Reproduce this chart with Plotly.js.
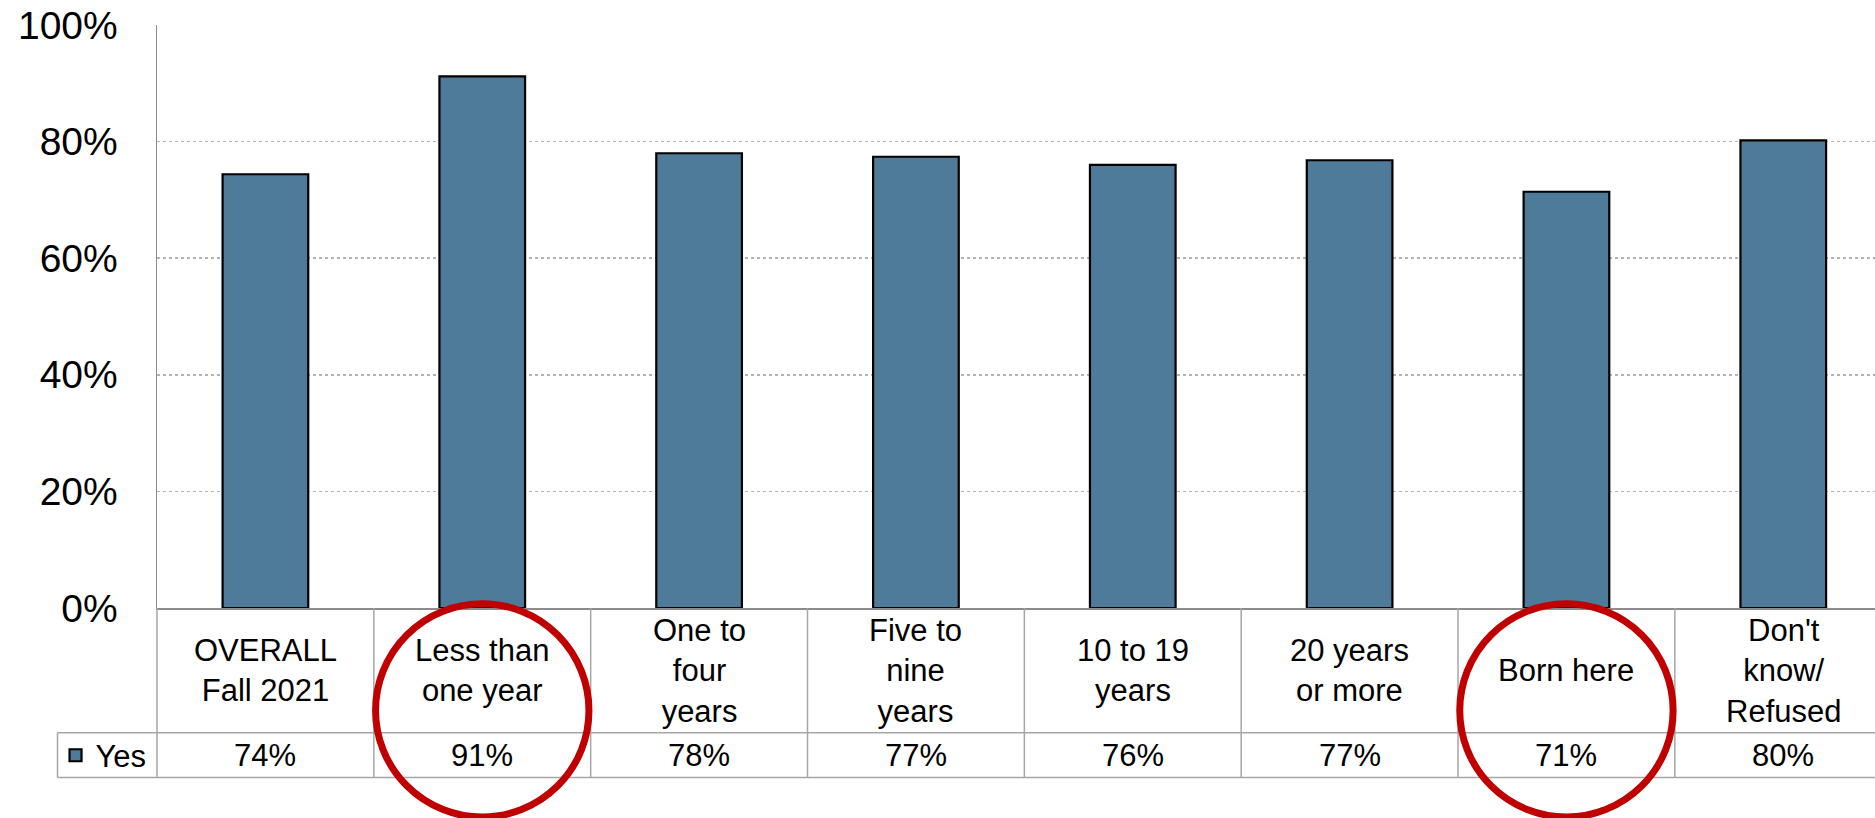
<!DOCTYPE html>
<html>
<head>
<meta charset="utf-8">
<script src="https://cdn.plot.ly/plotly-3.0.1.min.js"></script>
<style>
  html, body { margin: 0; padding: 0; background: #fff; }
  #chart { width: 1875px; height: 818px; }
</style>
</head>
<body>
<div id="chart"></div>
<script>
// ---- data ----
const categories = [
  "OVERALL<br>Fall 2021",
  "Less than<br>one year",
  "One to<br>four<br>years",
  "Five to<br>nine<br>years",
  "10 to 19<br>years",
  "20 years<br>or more",
  "Born here",
  "Don't<br>know/<br>Refused"
];
const seriesName = "Yes";
const yesValues = [74.4, 91.2, 78.0, 77.4, 76.0, 76.8, 71.4, 80.2];
const yTickValues = [0, 20, 40, 60, 80, 100];
const yTickLabels = ["0%", "20%", "40%", "60%", "80%", "100%"];
const highlighted = [1, 6];

// ---- layout constants (pixels) ----
const W = 1875, H = 818;
const mL = 156.5, mT = 25, mB = 209.7;
const plotH = H - mT - mB;
const catW = 216.9;
const plotW = W - mL;
const xRange = [-0.5, -0.5 + plotW / catW];
const py = p => (H - mB - p) / plotH;   // pixel y -> paper y
const px = p => (p - mL) / plotW;       // pixel x -> paper x

const FONT = '"Liberation Sans", Arial, sans-serif';
const xs = categories.map((_, i) => i);

const trace = {
  type: 'bar',
  x: xs,
  y: yesValues,
  name: seriesName,
  marker: { color: '#4e7b99', line: { color: '#000000', width: 2.2 } },
  hoverinfo: 'skip'
};

const lineColor = '#a6a6a6';
const shapes = [];
// table horizontal lines
[733, 778].forEach(p => shapes.push({
  type: 'line', xref: 'paper', yref: 'paper',
  x0: px(57), x1: 1.02, y0: py(p), y1: py(p),
  line: { color: lineColor, width: 1.5 }
}));
// axis line continuing through the table
shapes.push({ type: 'line', xref: 'paper', yref: 'paper', x0: 0, x1: 0, y0: 0, y1: py(778),
  line: { color: lineColor, width: 1.5 } });
// legend cell left border
shapes.push({ type: 'line', xref: 'paper', yref: 'paper', x0: px(57), x1: px(57), y0: py(733), y1: py(778),
  line: { color: lineColor, width: 1.5 } });
// category boundaries
for (let i = 0; i < categories.length - 1; i++) {
  shapes.push({ type: 'line', xref: 'x', yref: 'paper', x0: i + 0.5, x1: i + 0.5, y0: 0, y1: py(778),
    line: { color: lineColor, width: 1.5 } });
}
// red highlight circles
highlighted.forEach(i => shapes.push({
  type: 'circle', xref: 'x', yref: 'paper',
  x0: i - 0.492, x1: i + 0.492, y0: py(817.5), y1: py(604),
  line: { color: '#c00000', width: 7 }, fillcolor: 'rgba(0,0,0,0)', layer: 'above'
}));

const annotations = [];
categories.forEach((c, i) => annotations.push({
  x: i, xref: 'x', y: py(671), yref: 'paper', text: c, showarrow: false,
  xanchor: 'center', yanchor: 'middle', align: 'center',
  font: { family: FONT, size: 31, color: '#000' }
}));
yesValues.forEach((v, i) => annotations.push({
  x: i, xref: 'x', y: py(756), yref: 'paper', text: Math.round(v) + '%', showarrow: false,
  xanchor: 'center', yanchor: 'middle',
  font: { family: FONT, size: 31, color: '#000' }
}));

const layout = {
  width: W, height: H,
  margin: { l: mL, r: 0, t: mT, b: mB, pad: 0 },
  paper_bgcolor: '#ffffff', plot_bgcolor: '#ffffff',
  bargap: 0.605,
  showlegend: true,
  legend: {
    x: px(55), xanchor: 'left', y: py(756), yanchor: 'middle',
    bgcolor: 'rgba(0,0,0,0)', borderwidth: 0,
    font: { family: FONT, size: 31, color: '#000' },
    itemwidth: 30, tracegroupgap: 0
  },
  xaxis: {
    type: 'linear', range: xRange, showticklabels: false, ticks: '',
    showgrid: false, zeroline: false,
    showline: true, linecolor: '#8c8c8c', linewidth: 1.5, fixedrange: true
  },
  yaxis: {
    range: [0, 100], tickvals: yTickValues, ticktext: yTickLabels,
    ticks: '', ticklabelstandoff: 30,
    tickfont: { family: FONT, size: 39, color: '#000' },
    showgrid: true, gridcolor: '#b3b3b3', gridwidth: 1.5, griddash: 'dot',
    zeroline: false, showline: true, linecolor: '#8c8c8c', linewidth: 1.5, fixedrange: true
  },
  shapes: shapes,
  annotations: annotations,
  font: { family: FONT }
};

Plotly.newPlot('chart', [trace], layout, { displayModeBar: false, staticPlot: true });
</script>
</body>
</html>
